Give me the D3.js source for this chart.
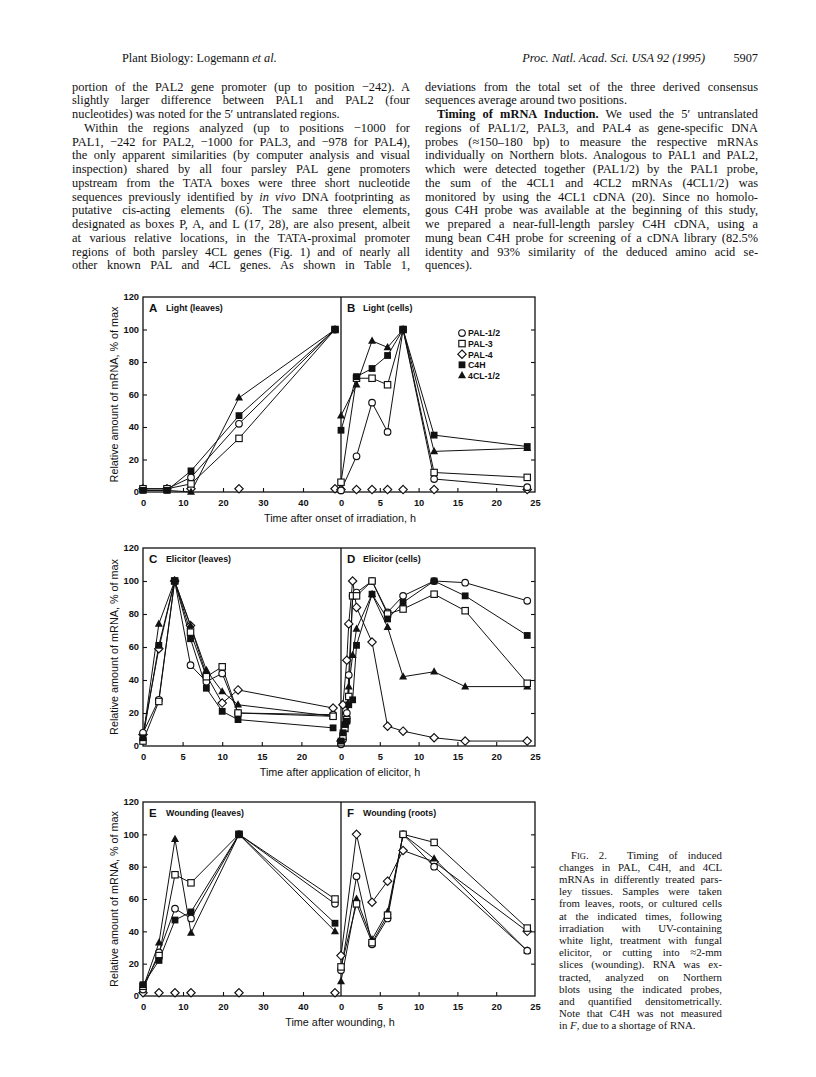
<!DOCTYPE html>
<html><head><meta charset="utf-8">
<script src="https://cdn.jsdelivr.net/npm/d3@7"></script>
<style>body{margin:0;background:#fff}svg{display:block}</style>
</head><body><svg id="page" width="816" height="1077"></svg>
<script>
// ---------------- DATA ----------------
const seriesNames = ["PAL-1/2", "PAL-3", "PAL-4", "C4H", "4CL-1/2"];
const seriesShapes = ["circle", "square", "diamond", "fsquare", "triangle"];

// A  Light (leaves)
const timesA = [0, 6, 12, 24, 48];
const A_pal12 = [2, 2, 9, 42, 100];
const A_pal3 = [2, 2, 5, 33, 100];
const A_pal4 = [2, 2, 2, 2, 2];
const A_c4h = [1, 1, 13, 47, 100];
const A_4cl = [1, 1, 0, 58, 100];
// B  Light (cells)
const timesB = [0, 2, 4, 6, 8, 12, 24];
const B_pal12 = [1, 22, 55, 37, 100, 8, 3];
const B_pal3 = [6, 70, 70, 66, 100, 12, 9];
const B_pal4 = [1.5, 1.5, 1.5, 1.5, 1.5, 1.5, 1.5];
const B_c4h = [38, 71, 76, 84, 100, 35, 28];
const B_4cl = [47, 66, 93, 89, 100, 25, 27];
// C  Elicitor (leaves)
const timesC = [0, 2, 4, 6, 8, 10, 12, 24];
const C_pal12 = [8, 28, 100, 49, 39, 44, 20, 19];
const C_pal3 = [3, 27, 100, 69, 42, 48, 20, 18];
const C_pal4 = [7, 59, 100, 73, 43, 26, 34, 23];
const C_c4h = [5, 61, 100, 65, 35, 21, 16, 11];
const C_4cl = [5, 74, 100, 73, 46, 33, 25, 18];
// D  Elicitor (cells)
const timesD = [0, 0.25, 0.5, 0.75, 1, 1.5, 2, 4, 6, 8, 12, 16, 24];
const D_pal12 = [1, 4, 12, 20, 43, 91, 93, 100, 81, 91, 100, 99, 88];
const D_pal3 = [2, 6, 11, 16, 30, 91, 91, 100, 80, 83, 92, 82, 38];
const D_pal4 = [3, 25, null, 52, 74, 100, 84, 63, 12, 9, 5, 3, 3];
const D_c4h = [3, 8, 13, 15, 25, 28, 61, 92, 77, 87, 100, 91, 67];
const D_4cl = [2, 5, 10, 18, 36, 55, 71, 92, 72, 42, 45, 36, 36];
// E  Wounding (leaves)
const timesE = [0, 4, 8, 12, 24, 48];
const E_pal12 = [4, 27, 54, 48, 100, 57];
const E_pal3 = [6, 25, 75, 70, 100, 60];
const E_pal4 = [2, 2, 2, 2, 2, 2];
const E_c4h = [7, 22, 47, 52, 100, 45];
const E_4cl = [5, 33, 97, 39, 100, 40];
// F  Wounding (roots)  (C4H not measured)
const timesF = [0, 2, 4, 6, 8, 12, 24];
const F_pal12 = [16, 74, 32, 48, 100, 80, 28];
const F_pal3 = [18, 57, 33, 50, 100, 95, 42];
const F_pal4 = [25, 100, 58, 71, 90, 83, 40];
const F_4cl = [9, 60, 35, 52, 100, 85, 28];

const yTicks = [0, 20, 40, 60, 80, 100, 120];
const xTicksLong = [0, 10, 20, 30, 40];
const xTicksShort = [0, 5, 10, 15, 20, 25];

const rowTitles = ["Time after onset of irradiation, h", "Time after application of elicitor, h", "Time after wounding, h"];
const yTitle = "Relative amount of mRNA, % of max";

// page text
const headerLeft = "Plant Biology: Logemann ";
const headerLeftIt = "et al.";
const headerRight = "Proc. Natl. Acad. Sci. USA 92 (1995)";
const pageNumber = "5907";

const leftColumn = [
  ["portion of the PAL2 gene promoter (up to position \u2212242). A", 1, 0],
  ["slightly larger difference between PAL1 and PAL2 (four", 1, 0],
  ["nucleotides) was noted for the 5\u2032 untranslated regions.", 0, 0],
  ["Within the regions analyzed (up to positions \u22121000 for", 1, 1],
  ["PAL1, \u2212242 for PAL2, \u22121000 for PAL3, and \u2212978 for PAL4),", 1, 0],
  ["the only apparent similarities (by computer analysis and visual", 1, 0],
  ["inspection) shared by all four parsley PAL gene promoters", 1, 0],
  ["upstream from the TATA boxes were three short nucleotide", 1, 0],
  ["sequences previously identified by _in vivo_ DNA footprinting as", 1, 0],
  ["putative cis-acting elements (6). The same three elements,", 1, 0],
  ["designated as boxes P, A, and L (17, 28), are also present, albeit", 1, 0],
  ["at various relative locations, in the TATA-proximal promoter", 1, 0],
  ["regions of both parsley 4CL genes (Fig. 1) and of nearly all", 1, 0],
  ["other known PAL and 4CL genes. As shown in Table 1,", 1, 0]
];
const rightColumn = [
  ["deviations from the total set of the three derived consensus", 1, 0],
  ["sequences average around two positions.", 0, 0],
  ["*Timing of mRNA Induction.* We used the 5\u2032 untranslated", 1, 1],
  ["regions of PAL1/2, PAL3, and PAL4 as gene-specific DNA", 1, 0],
  ["probes (\u2248150\u2013180 bp) to measure the respective mRNAs", 1, 0],
  ["individually on Northern blots. Analogous to PAL1 and PAL2,", 1, 0],
  ["which were detected together (PAL1/2) by the PAL1 probe,", 1, 0],
  ["the sum of the 4CL1 and 4CL2 mRNAs (4CL1/2) was", 1, 0],
  ["monitored by using the 4CL1 cDNA (20). Since no homolo-", 1, 0],
  ["gous C4H probe was available at the beginning of this study,", 1, 0],
  ["we prepared a near-full-length parsley C4H cDNA, using a", 1, 0],
  ["mung bean C4H probe for screening of a cDNA library (82.5%", 1, 0],
  ["identity and 93% similarity of the deduced amino acid se-", 1, 0],
  ["quences).", 0, 0]
];
const captionLines = [
  ["F^IG^. 2.  Timing of induced", 1, 1],
  ["changes in PAL, C4H, and 4CL", 1, 0],
  ["mRNAs in differently treated pars-", 1, 0],
  ["ley tissues. Samples were taken", 1, 0],
  ["from leaves, roots, or cultured cells", 1, 0],
  ["at the indicated times, following", 1, 0],
  ["irradiation with UV-containing", 1, 0],
  ["white light, treatment with fungal", 1, 0],
  ["elicitor, or cutting into \u22482-mm", 1, 0],
  ["slices (wounding). RNA was ex-", 1, 0],
  ["tracted, analyzed on Northern", 1, 0],
  ["blots using the indicated probes,", 1, 0],
  ["and quantified densitometrically.", 1, 0],
  ["Note that C4H was not measured", 1, 0],
  ["in _F_, due to a shortage of RNA.", 0, 0]
];

// ---------------- DRAW ----------------
const svg = d3.select("#page");
const SERIF = "'Liberation Serif', 'Times New Roman', serif";
const SANS = "'Liberation Sans', Arial, Helvetica, sans-serif";
const INK = "#111";

function parseSegs(str) {
  const segs = [];
  const re = /(_[^_]+_|\*[^*]+\*|\^[^^]+\^)/g;
  let last = 0, m;
  while ((m = re.exec(str))) {
    if (m.index > last) segs.push({t: str.slice(last, m.index)});
    const s = m[0];
    const inner = s.slice(1, -1);
    if (s[0] === "_") segs.push({t: inner, i: true});
    else if (s[0] === "*") segs.push({t: inner, b: true});
    else segs.push({t: inner, sc: true});
    last = m.index + s.length;
  }
  if (last < str.length) segs.push({t: str.slice(last)});
  return segs;
}

function textLine(x, y, width, str, justify, size) {
  const t = svg.append("text").attr("x", x).attr("y", y)
    .attr("font-family", SERIF).attr("font-size", size).attr("fill", INK)
    .style("white-space", "pre");
  const segs = parseSegs(str);
  segs.forEach(s => {
    const ts = t.append("tspan").text(s.t);
    if (s.i) ts.attr("font-style", "italic");
    if (s.b) ts.attr("font-weight", "bold");
    if (s.sc) ts.attr("font-size", size * 0.78);
  });
  if (justify) {
    const len = t.node().getComputedTextLength();
    const n = (str.match(/ /g) || []).length;
    if (n > 0) t.attr("word-spacing", ((width - len) / n).toFixed(3));
  }
  return t;
}

// header
const hl = svg.append("text").attr("x", 122).attr("y", 62).attr("font-family", SERIF)
  .attr("font-size", 12.3).attr("fill", INK);
hl.append("tspan").text(headerLeft);
hl.append("tspan").text(headerLeftIt).attr("font-style", "italic");
svg.append("text").attr("x", 705).attr("y", 62).attr("text-anchor", "end").attr("font-family", SERIF)
  .attr("font-size", 12.3).attr("font-style", "italic").attr("fill", INK).text(headerRight);
svg.append("text").attr("x", 758).attr("y", 62).attr("text-anchor", "end").attr("font-family", SERIF)
  .attr("font-size", 12.3).attr("fill", INK).text(pageNumber);

// body columns
const bodyLead = 13.75, bodyTop = 90.5, bodySize = 12.4;
leftColumn.forEach((l, i) => {
  const ind = l[2] ? 12 : 0;
  textLine(72 + ind, bodyTop + i * bodyLead, 338 - ind, l[0], l[1], bodySize);
});
rightColumn.forEach((l, i) => {
  const ind = l[2] ? 12 : 0;
  textLine(425 + ind, bodyTop + i * bodyLead, 333 - ind, l[0], l[1], bodySize);
});

// caption
captionLines.forEach((l, i) => {
  const ind = l[2] ? 12 : 0;
  textLine(559 + ind, 858.5 + i * 12.2, 163 - ind, l[0], l[1], 10.8);
});

// ---------------- CHART ----------------
const X0 = 143, XM = 341, X1 = 535;
const rows = [
  {top: 297, bottom: 492},
  {top: 548, bottom: 746},
  {top: 802, bottom: 996}
];

const panels = [
  {id: "A", title: "Light (leaves)", row: 0, side: 0, domain: [0, 49.5], ticks: xTicksLong, times: timesA,
   data: [A_pal12, A_pal3, A_pal4, A_c4h, A_4cl], noLine: [2]},
  {id: "B", title: "Light (cells)", row: 0, side: 1, domain: [0, 25], ticks: xTicksShort, times: timesB,
   data: [B_pal12, B_pal3, B_pal4, B_c4h, B_4cl], noLine: [2], legend: true},
  {id: "C", title: "Elicitor (leaves)", row: 1, side: 0, domain: [0, 25], ticks: xTicksShort.slice(0, 5), times: timesC,
   data: [C_pal12, C_pal3, C_pal4, C_c4h, C_4cl], noLine: []},
  {id: "D", title: "Elicitor (cells)", row: 1, side: 1, domain: [0, 25], ticks: xTicksShort, times: timesD,
   data: [D_pal12, D_pal3, D_pal4, D_c4h, D_4cl], noLine: []},
  {id: "E", title: "Wounding (leaves)", row: 2, side: 0, domain: [0, 49.5], ticks: xTicksLong, times: timesE,
   data: [E_pal12, E_pal3, E_pal4, E_c4h, E_4cl], noLine: [2]},
  {id: "F", title: "Wounding (roots)", row: 2, side: 1, domain: [0, 25], ticks: xTicksShort, times: timesF,
   data: [F_pal12, F_pal3, F_pal4, null, F_4cl], noLine: []}
];

function marker(g, type, x, y) {
  const sw = 1.15;
  if (type === "circle") {
    g.append("circle").attr("cx", x).attr("cy", y).attr("r", 3.3)
      .attr("fill", "#fff").attr("stroke", INK).attr("stroke-width", sw);
  } else if (type === "square") {
    g.append("rect").attr("x", x - 3.2).attr("y", y - 3.2).attr("width", 6.4).attr("height", 6.4)
      .attr("fill", "#fff").attr("stroke", INK).attr("stroke-width", sw);
  } else if (type === "fsquare") {
    g.append("rect").attr("x", x - 3.4).attr("y", y - 3.4).attr("width", 6.8).attr("height", 6.8)
      .attr("fill", INK);
  } else if (type === "diamond") {
    const r = 4.2;
    g.append("path").attr("d", `M${x},${y - r}L${x + r},${y}L${x},${y + r}L${x - r},${y}Z`)
      .attr("fill", "#fff").attr("stroke", INK).attr("stroke-width", sw);
  } else if (type === "triangle") {
    g.append("path").attr("d", `M${x},${y - 4.4}L${x + 4},${y + 2.8}L${x - 4},${y + 2.8}Z`)
      .attr("fill", INK);
  }
}

const drawOrder = [2, 4, 0, 1, 3];

rows.forEach((r, ri) => {
  const g = svg.append("g");
  g.append("text").attr("transform", `translate(118,${(r.top + r.bottom) / 2}) rotate(-90)`)
    .attr("text-anchor", "middle").attr("font-family", SANS).attr("font-size", 10.8).attr("fill", INK)
    .text(yTitle);
  g.append("text").attr("x", 340).attr("y", r.bottom + 30).attr("text-anchor", "middle")
    .attr("font-family", SANS).attr("font-size", 10.8).attr("fill", INK).text(rowTitles[ri]);
  const y = d3.scaleLinear().domain([0, 120]).range([r.bottom, r.top]);
  const ya = g.append("g").attr("transform", `translate(${X0},0)`)
    .call(d3.axisLeft(y).tickValues(yTicks).tickSize(-4).tickPadding(4));
  ya.select(".domain").remove();
  ya.selectAll(".tick line").filter(d => d === 0 || d === 120).remove();
  ya.selectAll("text").attr("font-family", SANS).attr("font-weight", "bold").attr("font-size", 9.3).attr("fill", INK);
  ya.selectAll("line").attr("stroke", INK).attr("stroke-width", 1.1);
  const yr = g.append("g").attr("transform", `translate(${X1},0)`)
    .call(d3.axisRight(y).tickValues([20, 40, 60, 80, 100]).tickSize(-4).tickFormat(""));
  yr.select(".domain").remove();
  yr.selectAll("line").attr("stroke", INK).attr("stroke-width", 1.1);
  g.append("rect").attr("x", X0).attr("y", r.top).attr("width", X1 - X0).attr("height", r.bottom - r.top)
    .attr("fill", "none").attr("stroke", INK).attr("stroke-width", 1.3);
  g.append("line").attr("x1", XM).attr("x2", XM).attr("y1", r.top).attr("y2", r.bottom)
    .attr("stroke", INK).attr("stroke-width", 1.3);
  r.y = y;
});

panels.forEach(p => {
  const r = rows[p.row];
  const y = r.y;
  const x = d3.scaleLinear().domain(p.domain).range(p.side === 0 ? [X0, XM] : [XM, X1]);
  const g = svg.append("g");
  const xa = g.append("g").attr("transform", `translate(0,${r.bottom})`)
    .call(d3.axisBottom(x).tickValues(p.ticks).tickSize(-4).tickPadding(7));
  xa.select(".domain").remove();
  xa.selectAll(".tick line").filter(d => d === 0 || d === 25 && p.side === 1).remove();
  xa.selectAll("text").attr("font-family", SANS).attr("font-weight", "bold").attr("font-size", 9.3).attr("fill", INK);
  xa.selectAll("line").attr("stroke", INK).attr("stroke-width", 1.1);
  const lx = p.side === 0 ? X0 + 6 : XM + 6;
  g.append("text").attr("x", lx).attr("y", r.top + 15).attr("font-family", SANS).attr("font-weight", "bold")
    .attr("font-size", 11.5).attr("fill", INK).text(p.id);
  g.append("text").attr("x", lx + (p.side === 0 ? 17 : 16)).attr("y", r.top + 14).attr("font-family", SANS)
    .attr("font-weight", "bold").attr("font-size", 8.8).attr("fill", INK).text(p.title);
  const line = d3.line().x(d => x(d[0])).y(d => y(d[1]));
  drawOrder.forEach(si => {
    const vals = p.data[si];
    if (!vals || p.noLine.includes(si)) return;
    const pts = p.times.map((t, k) => [t, vals[k]]).filter(d => d[1] !== null);
    g.append("path").attr("d", line(pts)).attr("fill", "none").attr("stroke", INK).attr("stroke-width", 1);
  });
  drawOrder.forEach(si => {
    const vals = p.data[si];
    if (!vals) return;
    p.times.forEach((t, k) => {
      if (vals[k] === null) return;
      marker(g, seriesShapes[si], x(t), y(vals[k]));
    });
  });
  if (p.legend) {
    seriesNames.forEach((n, i) => {
      const ly = 333 + i * 10.6;
      marker(g, seriesShapes[i], 462, ly);
      g.append("text").attr("x", 468).attr("y", ly + 3.3).attr("font-family", SANS).attr("font-weight", "bold")
        .attr("font-size", 8.8).attr("fill", INK).text(n);
    });
  }
});
</script></body></html>
